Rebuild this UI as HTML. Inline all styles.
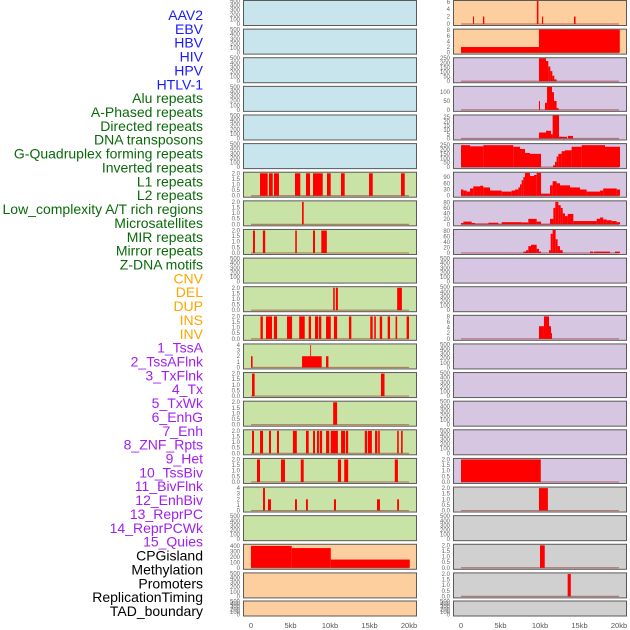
<!DOCTYPE html>
<html><head><meta charset="utf-8"><style>
html,body{margin:0;padding:0;background:#fff;}
svg{display:block;font-family:"Liberation Sans",sans-serif;}
</style></head><body>
<svg id="chart" width="630" height="630" viewBox="0 0 630 630"></svg>
<script>
const labels = ["AAV2","EBV","HBV","HIV","HPV","HTLV-1","Alu repeats","A-Phased repeats","Directed repeats","DNA transposons","G-Quadruplex forming repeats","Inverted repeats","L1 repeats","L2 repeats","Low_complexity A/T rich regions","Microsatellites","MIR repeats","Mirror repeats","Z-DNA motifs","CNV","DEL","DUP","INS","INV","1_TssA","2_TssAFlnk","3_TxFlnk","4_Tx","5_TxWk","6_EnhG","7_Enh","8_ZNF_Rpts","9_Het","10_TssBiv","11_BivFlnk","12_EnhBiv","13_ReprPC","14_ReprPCWk","15_Quies","CPGisland","Methylation","Promoters","ReplicationTiming","TAD_boundary"];
const labelGroups = ["v","v","v","v","v","v","r","r","r","r","r","r","r","r","r","r","r","r","r","c","c","c","c","c","s","s","s","s","s","s","s","s","s","s","s","s","s","s","s","o","o","o","o","o"];
const xTicks = [0,5,10,15,20];
const xTickLabels = ["0","5kb","10kb","15kb","20kb"];
const leftBg = ["b","b","b","b","b","b","g","g","g","g","g","g","g","g","g","g","g","g","g","o","o","o"];
const rightBg = ["o","o","p","p","p","p","p","p","p","p","p","p","p","p","p","p","p","k","k","k","k","k"];
const leftMax = [500,500,500,500,500,500,2.05,2.05,2.05,500,2.05,2.05,4.1,2.05,2.05,2.05,2.05,4.1,500,420,500,500];
const rightMax = [6.2,8.2,250,130,27,260,111,84,84,500,500,8.2,500,500,500,500,2.05,2.05,500,2.05,2.05,500];
const leftTicks = [];
const rightTicks = [];
const T500=[0,100,200,300,400,500], T2=[0,0.5,1.0,1.5,2.0], T4=[0,1,2,3,4];
leftMax.forEach(m=>leftTicks.push(m===500?T500:m===2.05?T2:m===4.1?T4:[0,100,200,300,400]));
const rightTickSets = [[0,2,4,6],[0,2,4,6,8],[0,50,100,150,200,250],[0,50,100],[0,5,10,15,20,25],[0,50,100,150,200,250],[0,30,60,90],[0,20,40,60,80],[0,20,40,60,80],T500,T500,[0,2,4,6,8],T500,T500,T500,T500,T2,T2,T500,T2,T2,T500];
rightTickSets.forEach(t=>rightTicks.push(t));
const leftSegs = [[],[],[],[],[],[],
 [[1.14,2.11,2],[2.28,2.75,2],[2.91,3.54,2],[5.57,6.24,2],[6.96,7.47,2],[7.85,9.08,2],[9.62,10.09,2],[11.39,11.86,2],[14.94,15.41,2],[18.99,19.46,2]],
 [[6.46,6.67,2]],
 [[0.25,0.5,2],[1.5,1.8,2],[5.6,5.8,2],[7.85,8.1,2],[8.9,9.6,2]],
 [],
 [[10.4,10.6,2],[10.75,11.0,2],[18.5,19.1,2]],
 [[1.2,1.5,2],[1.9,2.66,2],[2.9,3.3,2],[4.56,5.2,2],[6.1,6.8,2],[7.3,7.6,2],[8.1,8.5,2],[8.6,8.9,2],[9.5,10.1,2],[10.5,10.9,2],[12.4,12.7,2],[15.1,15.4,2],[15.6,15.8,2],[16.3,16.6,2],[17.3,17.6,2],[18.3,18.5,2],[19.7,20.0,2]],
 [[0,0.2,2],[6.46,8.95,2],[7.5,7.6,4],[9.5,9.8,2]],
 [[0.13,0.46,2],[16.45,16.9,2]],
 [[10.4,10.9,2]],
 [[0.13,0.38,2],[1.14,1.52,2],[2.28,2.53,2],[3.29,3.54,2],[5.3,5.8,2],[6.96,7.3,2],[7.85,8.1,2],[8.35,8.6,2],[8.7,9.0,2],[9.5,9.9,2],[10.1,11.0,2],[11.4,11.9,2],[12.0,12.3,2],[14.4,14.7,2],[14.8,15.3,2],[15.7,16.0,2],[16.1,16.3,2],[18.5,18.7,2],[19.0,19.2,2]],
 [[0.76,1.14,2],[3.8,4.3,2],[6.3,6.67,2],[11.0,11.4,2],[11.8,12.3,2],[18.2,18.6,2]],
 [[1.52,1.77,4],[2.15,2.53,2],[5.57,5.82,2],[6.96,7.2,2],[10.5,10.76,2],[15.95,16.33,2],[18.5,18.73,2]],
 [],
 [[0,5.15,400],[5.15,10.1,360],[10.1,20.1,150]],
 [],[]];
const rightSegs = [
 [[1.52,1.65,2],[2.78,2.95,2],[9.6,9.8,6.2],[10.25,10.4,2],[14.3,14.5,2]],
 [[0,9.87,2],[9.87,20.1,8.2]],
 [[9.87,10.76,250],[10.76,11.05,220],[11.05,11.31,160],[11.31,11.56,110],[11.56,11.81,60],[11.81,12.1,20]],
 [[9.87,10.0,50],[10.63,10.89,40],[10.89,11.52,130],[11.52,11.77,100],[11.77,12.1,50],[12.1,12.36,10]],
 [[9.87,10.76,7],[10.76,11.39,9],[11.39,11.6,5],[11.6,12.41,27],[12.41,13.42,2],[13.54,14.18,3]],
 [[0,1.14,248],[1.14,2.83,235],[2.83,6.62,248],[6.62,7.47,230],[7.47,8.1,205],[8.1,8.73,160],[8.73,10.13,150],[11.65,11.9,20],[11.9,12.1,60],[12.1,12.32,120],[12.32,12.74,150],[12.74,13.16,180],[13.16,14.0,190],[14.0,15.27,230],[15.27,18.23,248],[18.23,20.13,230]],
 [[0,0.3,30],[0.3,0.72,25],[0.72,1.14,20],[1.14,1.56,35],[1.56,2.41,45],[2.41,2.83,48],[2.83,3.67,40],[3.67,5.15,25],[5.15,6.41,20],[6.41,6.84,25],[6.84,7.26,30],[7.26,7.47,40],[7.47,7.68,55],[7.68,7.89,75],[7.89,8.1,90],[8.1,8.73,110],[8.73,9.24,95],[9.24,9.58,100],[9.58,10.13,110],[10.13,11.27,10],[11.27,11.6,50],[11.6,12.1,70],[12.1,12.53,60],[12.53,13.8,50],[13.8,15.06,40],[15.06,15.9,30],[15.9,17.6,20],[17.6,18.0,25],[18.0,19.7,35],[19.7,20.13,30]],
 [[0,0.3,5],[0.3,1.35,10],[1.35,1.77,5],[1.77,3.46,3],[3.46,4.73,6],[4.73,5.15,2],[5.15,7.68,8],[7.68,8.52,7],[8.52,9.58,20],[9.58,10.13,10],[10.13,11.27,2],[11.27,11.69,20],[11.69,11.94,60],[11.94,12.32,82],[12.32,12.62,70],[12.62,12.87,60],[12.87,13.16,40],[13.16,13.5,30],[13.5,14.22,38],[14.22,17.17,12],[17.17,17.6,20],[17.6,18.0,25],[18.0,18.44,18],[18.44,19.07,15],[19.07,19.7,12],[19.7,20.13,8]],
 [[7.89,8.23,5],[8.23,8.52,10],[8.52,8.86,25],[8.86,9.58,30],[9.58,9.87,15],[9.87,10.13,5],[11.14,11.35,10],[11.35,11.6,70],[11.6,11.98,84],[11.98,12.23,50],[12.23,12.53,25],[12.53,12.87,10],[16.33,16.75,5],[16.84,18.86,5],[19.49,20.13,5]],
 [],[],
 [[9.87,10.5,4.5],[10.5,11.14,8],[11.14,11.39,4.5],[11.39,11.52,2]],
 [],[],[],[],
 [[0,10.1,2]],
 [[9.87,11.0,2]],
 [],
 [[10.0,10.6,2]],
 [[13.5,13.9,2]],
 []];

const NS="http://www.w3.org/2000/svg";
const svg=document.getElementById('chart');
const COL={v:"#1a1aff",r:"#0a6a0a",c:"#ffa500",s:"#a020f0",o:"#000"};
const BG={b:"#c8e4ec",g:"#c9e2a5",o:"#fecf9e",p:"#d6c6e2",k:"#d0d0d0"};
function mk(tag,attrs){const e=document.createElementNS(NS,tag);for(const k in attrs)e.setAttribute(k,attrs[k]);svg.appendChild(e);return e;}

labels.forEach((t,i)=>{
  const e=mk('text',{x:203,y:15+i*13.86+5,'text-anchor':'end','font-size':'14',fill:COL[labelGroups[i]]});
  e.textContent=t;
  
  
});

const PW=173;
function rowTop(i){return i<21?0.5+i*28.62:601;}
function rowH(i){return i<21?25:15;}
function drawPanel(px,i,bg,max,ticks,segs,side){
  const top=rowTop(i),h=rowH(i);
  const xs=kb=>px+8+kb*7.9;
  const y0=top+h-1.5, y1=top+0.5;
  const ys=v=>y0-(v/max)*(y0-y1);
  const r=mk('rect',{x:px+0.5,y:top,width:PW,height:h,fill:BG[bg],stroke:'#5a5a5a','stroke-width':1});
  
  
  segs.forEach(s=>{
    const a=Math.max(0,s[0]);
    const b=mk('rect',{x:xs(a),y:ys(Math.min(s[2],max)),width:Math.max(0.8,xs(s[1])-xs(a)),height:y0-ys(Math.min(s[2],max)),fill:'#ff0000'});
    
    
  });
  if(segs.length){
    const l=mk('line',{x1:xs(0),x2:xs(20),y1:y0,y2:y0,stroke:'rgba(150,30,30,0.5)','stroke-width':1.2});
    
    
  }
  ticks.forEach(t=>{
    const e=mk('text',{x:px-3,y:ys(t)+2,'text-anchor':'end','font-size':'6',fill:'#666'});
    e.textContent=(max===2.05)?t.toFixed(1):String(t);
    
    
  });
}
for(let i=0;i<22;i++){
  drawPanel(243,i,leftBg[i],leftMax[i],leftTicks[i],leftSegs[i],'left');
  drawPanel(453,i,rightBg[i],rightMax[i],rightTicks[i],rightSegs[i],'right');
}
[243,453].forEach(px=>{
  xTicks.forEach((t,k)=>{
    const e=mk('text',{x:px+8+t*7.9,y:628,'text-anchor':'middle','font-size':'7.5',fill:'#555'});
    e.textContent=xTickLabels[k];
    
    
  });
});
</script>
</body></html>
